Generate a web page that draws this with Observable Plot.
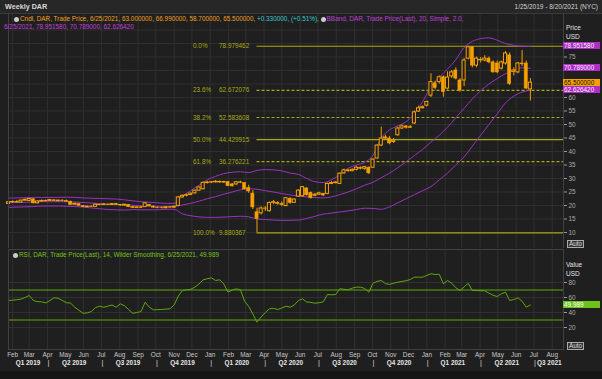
<!DOCTYPE html>
<html><head><meta charset="utf-8">
<script src="https://cdn.jsdelivr.net/npm/d3@7"></script>
<script src="https://cdn.jsdelivr.net/npm/@observablehq/plot@0.6"></script>
<style>
body{margin:0;background:#1b1b1b;}
#wrap{position:relative;width:602px;height:379px;overflow:hidden;background:#1f1f1f;font-family:"Liberation Sans",Arial,sans-serif;font-size:6.4px;color:#ccc;}
.abs{position:absolute;white-space:nowrap;line-height:8px;}
.tag{position:absolute;left:563px;width:37px;height:7px;line-height:7px;font-size:6.4px;padding-left:1px;box-sizing:border-box;}
.ico{display:inline-block;width:5px;height:5px;border-radius:50%;background:#ccc;margin-right:1px;vertical-align:-0.5px;}
.plot{position:absolute;left:0;}
</style></head><body><div id="wrap"></div>
<script>
// ---------- DATA (weekly, Fridays from 2019-01-25 to 2021-06-25) ----------
const firstWeek = "2019-01-25";
const open = [
20.6,21.2,21.3,21.1,21.8,21.7,22.3,20.8,21.5,21.6,
21.7,21.9,21.6,21.8,21.6,21.4,20.3,20.5,19.8,19.4,
19.6,19.5,20.2,20.2,20.3,20.2,20.5,20.2,20.0,20.2,
19.4,19.1,19.3,19.4,20.2,19.6,19.2,19.1,19.0,19.3,
19.2,19.8,23.0,23.6,23.9,24.5,25.5,26.0,28.3,28.5,
28.6,28.8,28.5,28.7,27.8,27.8,28.6,28.3,26.4,24.4,
17.5,17.1,18.9,17.9,21.0,21.0,20.6,19.8,22.5,21.0,
23.3,23.4,26.3,24.6,23.6,24.0,24.3,24.3,28.0,28.3,
28.0,31.9,33.0,32.7,33.2,34.0,33.6,34.0,34.0,37.4,
42.2,44.8,44.8,43.5,46.0,48.5,49.3,48.8,50.4,54.8,
56.0,57.0,60.7,65.2,65.7,67.5,63.3,67.8,70.0,66.3,
66.3,74.4,78.6,71.8,74.0,73.7,74.4,73.0,72.6,70.7,
72.6,75.6,69.5,69.3,72.6,72.6,63.0];
const high = [
21.5,21.7,21.8,22.0,22.4,22.6,22.5,21.7,22.0,22.0,
22.3,22.2,22.0,22.1,22.0,21.6,20.9,20.6,20.0,19.8,
19.9,20.5,20.5,20.6,20.6,20.7,20.8,20.4,20.4,20.3,
19.7,19.5,19.6,21.1,20.4,19.8,19.5,19.4,19.5,19.6,
19.8,23.4,23.9,24.2,24.6,25.7,26.9,28.7,28.9,28.9,
29.2,29.1,29.0,28.9,28.2,28.9,29.0,28.4,27.5,25.5,
19.0,19.5,19.5,21.3,21.9,21.4,21.3,23.0,22.9,22.5,
25.8,27.0,26.6,25.0,24.4,24.9,24.5,28.3,28.8,28.9,
32.1,33.5,33.4,33.6,34.5,34.3,34.5,34.3,37.3,42.5,
49.0,46.0,45.5,44.8,49.0,49.8,49.5,49.6,55.0,56.8,
56.9,58.7,68.8,66.0,68.0,68.0,69.5,70.0,71.0,67.0,
74.5,78.98,78.9,75.0,74.8,75.5,75.0,73.6,73.5,73.5,
77.0,76.5,71.0,73.0,77.4,73.5,66.99];
const low = [
20.3,20.8,20.9,21.0,21.6,21.5,20.6,20.6,21.2,21.3,
21.5,21.5,21.3,21.4,21.2,20.0,20.1,19.7,19.2,19.2,
19.3,19.4,19.9,20.0,20.0,20.1,20.0,19.7,19.8,19.2,
18.9,18.9,18.9,19.3,19.5,19.0,18.8,18.7,18.8,19.0,
19.0,19.7,22.8,23.2,23.7,24.2,25.3,25.8,28.0,28.1,
28.3,28.2,28.2,27.0,26.8,27.5,28.1,25.8,24.5,18.5,
9.88,16.5,17.8,17.6,20.3,20.1,19.6,19.5,20.5,20.8,
23.0,23.2,23.5,22.4,23.2,23.8,23.3,24.0,27.7,28.0,
27.8,31.6,32.2,32.5,32.8,33.2,33.0,31.5,33.8,37.2,
41.8,44.3,42.5,43.0,45.7,48.2,48.3,48.5,50.0,54.5,
55.8,56.5,60.0,62.8,65.0,60.1,62.8,67.0,66.5,62.0,
64.0,73.9,71.0,71.0,72.8,73.2,72.5,69.0,68.8,70.2,
72.0,64.5,68.0,68.8,71.5,63.0,58.7];
const close = [
21.2,21.3,21.1,21.8,22.1,22.4,20.8,21.5,21.7,21.7,
22.0,21.6,21.8,21.6,21.4,20.2,20.6,19.9,19.4,19.6,
19.5,20.3,20.1,20.4,20.2,20.5,20.2,20.0,20.3,19.4,
19.1,19.3,19.1,20.8,19.7,19.2,19.1,19.0,19.3,19.2,
19.5,23.0,23.6,23.8,24.4,25.5,26.7,28.4,28.5,28.6,
28.8,28.5,28.7,27.2,27.1,28.6,28.4,26.0,25.2,19.3,
15.1,18.9,18.8,20.9,21.2,20.6,20.2,22.7,20.9,22.2,
25.5,26.8,23.8,22.7,24.0,24.5,23.7,28.0,28.3,28.5,
31.8,33.0,32.7,33.2,34.0,33.6,34.2,31.9,37.0,42.2,
44.8,45.2,43.0,44.0,48.5,49.3,48.8,49.0,54.5,56.0,
56.4,58.3,65.7,63.5,67.5,62.0,67.4,69.3,67.0,62.6,
73.7,78.6,71.8,74.4,73.7,74.4,73.0,69.3,69.3,73.0,
76.3,65.0,70.0,72.6,72.3,63.3,65.5];
// RSI(14) weekly
const rsi = [
56,56.5,57,57.8,60,62.7,56,54.5,54.2,52.8,
56,59.6,59,56,53,52.5,47,43,39,39.5,
41.3,46.5,48.4,47,48.5,50,47,51.6,49,44,
39,40,41.3,53.8,47,43.6,43.8,44,44.5,44.9,
50,62,69.3,70.2,71,73.8,78,83.6,85,86.2,
82.7,83.6,78,67.1,70,71.6,70.2,55,48,38,
27.1,34,40,44.9,45.5,44,46,48.4,47.1,50,
56,58.2,54,53.5,52.4,53,54.2,64,63.6,64,
71.6,71,70.2,72.5,73.8,73.8,72,67.1,79,81.5,
82.7,78.5,77.5,79,80.4,81.5,82.3,84,87.1,87.1,
87.1,89.5,91.6,90.7,91,78.2,82.7,79,73,69.3,
74,79,69.3,69.3,69,68.9,65.8,63,61.3,65,
67.1,56,57.3,59.6,55,47.1,49.989];
// Bollinger band (20, 2.0) read every second week (weeks 0,2,...,126)
const bandUpper = [22.7,22.8,22.9,23.0,23.0,23.0,23.0,23.1,23.0,22.8,
22.7,22.6,22.5,22.4,22.1,21.7,21.4,21.2,21.0,20.8,
20.8,23.5,25.5,27.5,29.5,30.8,31.8,32.3,32.5,32.2,
33.0,33.3,33.2,32.8,32.0,31.5,30.0,28.8,28.5,29.5,
31.5,33.8,35.0,36.0,38.5,45.0,48.0,49.5,51.0,54.0,
58.5,64.0,67.5,70.5,74.0,78.5,80.8,81.8,82.1,81.2,
80.0,79.3,79.0,78.95];
const bandMiddle = [21.0,21.1,21.2,21.3,21.4,21.4,21.4,21.4,21.3,21.1,
20.9,20.7,20.5,20.4,20.2,20.1,19.9,19.8,19.7,19.7,
19.7,20.2,20.8,21.6,22.5,23.3,24.2,25.0,25.8,26.2,
26.0,25.5,25.0,24.4,23.9,23.5,23.2,22.9,22.8,23.2,
24.0,25.0,26.2,27.5,28.6,30.3,32.0,34.0,36.2,38.5,
40.8,43.5,46.0,49.0,52.5,56.0,59.5,62.5,65.0,67.0,
68.8,70.0,71.0,70.79];
const bandLower = [19.3,19.4,19.5,19.6,19.8,19.8,19.8,19.7,19.6,19.4,
19.1,18.8,18.5,18.4,18.3,18.5,18.4,18.4,18.4,18.6,
18.6,16.9,16.2,15.8,15.6,15.6,15.7,15.9,16.0,15.8,
15.0,14.8,14.6,14.5,14.5,14.6,15.2,16.0,16.8,17.2,
17.6,18.0,18.5,19.0,18.9,18.6,19.5,21.0,22.5,24.0,
25.5,27.0,29.5,32.0,35.0,38.0,42.0,46.0,50.0,54.0,
58.0,60.5,62.0,62.63];
// Fibonacci retracement (low 2020-03-20 -> high 2021-03-12)
const fibPct = ["0.0%","23.6%","38.2%","50.0%","61.8%","100.0%"];
const fibVal = [78.979462,62.672076,52.583608,44.429915,36.276221,9.880367];
const fibDashed = [false,true,true,false,true,false];
const fibStart = "2020-03-20";
// axes
const priceGrid = [10,15,20,25,30,35,40,45,50,55,60,65,70,75,80,85];
const priceTickLabels = [10,15,20,25,30,35,40,45,50,55,60,75];
const rsiTicks = [20,40,60,80];
const monthStarts = ["2019-02-01","2019-03-01","2019-04-01","2019-05-01","2019-06-01","2019-07-01","2019-08-01","2019-09-01","2019-10-01","2019-11-01","2019-12-01","2020-01-01","2020-02-01","2020-03-01","2020-04-01","2020-05-01","2020-06-01","2020-07-01","2020-08-01","2020-09-01","2020-10-01","2020-11-01","2020-12-01","2021-01-01","2021-02-01","2021-03-01","2021-04-01","2021-05-01","2021-06-01","2021-07-01","2021-08-01"];
const monthLabels = ["Feb","Mar","Apr","May","Jun","Jul","Aug","Sep","Oct","Nov","Dec","Jan","Feb","Mar","Apr","May","Jun","Jul","Aug","Sep","Oct","Nov","Dec","Jan","Feb","Mar","Apr","May","Jun","Jul","Aug"];
const quarterStarts = ["2019-04-01","2019-07-01","2019-10-01","2020-01-01","2020-04-01","2020-07-01","2020-10-01","2021-01-01","2021-04-01","2021-07-01"];
const quarterMids = ["2019-02-27","2019-05-16","2019-08-15","2019-11-15","2020-02-15","2020-05-16","2020-08-15","2020-11-15","2021-02-14","2021-05-16","2021-07-27"];
const quarterLabels = ["Q1 2019","Q2 2019","Q3 2019","Q4 2019","Q1 2020","Q2 2020","Q3 2020","Q4 2020","Q1 2021","Q2 2021","Q3 2021"];
const rangeStart = "2019-01-25", rangeEnd = "2021-08-20";

// ---------- BUILD ----------
const D = s => new Date(s + "T00:00:00Z");
const x0 = D(rangeStart), x1 = D(rangeEnd);
const weeks = open.map((_, i) => d3.utcDay.offset(D(firstWeek), 7 * i));
const candles = weeks.map((d, i) => ({date: d, o: open[i], h: high[i], l: low[i], c: close[i]}));
const bands = bandUpper.map((u, k) => ({date: weeks[Math.min(2 * k, weeks.length - 1)], u, m: bandMiddle[k], l: bandLower[k]}));
const fib = fibPct.map((p, i) => ({p, v: fibVal[i], dash: fibDashed[i]}));
const rsiData = weeks.map((d, i) => ({date: d, r: rsi[i]}));
const months = monthStarts.map(D), qStarts = quarterStarts.map(D), qMids = quarterMids.map(D);

const BG = "#1f1f1f", GRID = "#303030", FRAME = "#404040";
const ORANGE = "#f5a000", PURPLE = "#9a32c2", OLIVE = "#a9a914", GREEN = "#5fa80a";
const halfW = 2.6 * 864e5;
const fs = 6.4;

const wrap = document.getElementById("wrap");

const pricePlot = Plot.plot({
  width: 602, height: 235, marginLeft: 8, marginRight: 39, marginTop: 0, marginBottom: 0,
  style: {background: "transparent", fontFamily: "Liberation Sans, Arial, sans-serif"},
  x: {type: "utc", domain: [x0, x1], axis: null},
  y: {domain: [4.07, 91.11], axis: null},
  marks: [
    Plot.gridX(months, {stroke: GRID, strokeOpacity: 1}),
    Plot.gridY(priceGrid, {stroke: GRID, strokeOpacity: 1}),
    Plot.axisY(priceTickLabels, {anchor: "right", tickSize: 3, tickPadding: 2, stroke: "#999", fill: "#aaa", fontSize: fs, label: null, tickFormat: d => d}),
    Plot.ruleY(fib.filter(d => !d.dash), {y: "v", x1: D(fibStart), x2: x1, stroke: OLIVE, strokeWidth: 1.2}),
    Plot.ruleY(fib.filter(d => d.dash), {y: "v", x1: D(fibStart), x2: x1, stroke: OLIVE, strokeWidth: 1.2, strokeDasharray: "3,2"}),
    Plot.text(fib, {x: () => D(fibStart), y: "v", text: "p", dx: -64, textAnchor: "start", fill: OLIVE, fontSize: fs}),
    Plot.text(fib, {x: () => D(fibStart), y: "v", text: d => String(d.v), dx: -38, textAnchor: "start", fill: OLIVE, fontSize: fs}),
    Plot.line(bands, {x: "date", y: "u", stroke: PURPLE, strokeWidth: 1, curve: "monotone-x"}),
    Plot.line(bands, {x: "date", y: "m", stroke: PURPLE, strokeWidth: 1, curve: "monotone-x"}),
    Plot.line(bands, {x: "date", y: "l", stroke: PURPLE, strokeWidth: 1, curve: "monotone-x"}),
    Plot.ruleX(candles, {x: "date", y1: "l", y2: "h", stroke: ORANGE, strokeWidth: 1}),
    Plot.rect(candles.filter(d => d.c >= d.o), {x1: d => new Date(+d.date - halfW), x2: d => new Date(+d.date + halfW), y1: "o", y2: "c", fill: BG, stroke: ORANGE, strokeWidth: 1}),
    Plot.rect(candles.filter(d => d.c < d.o), {x1: d => new Date(+d.date - halfW), x2: d => new Date(+d.date + halfW), y1: "c", y2: "o", fill: ORANGE, stroke: ORANGE, strokeWidth: 0.6}),
    Plot.frame({stroke: FRAME})
  ]
});
pricePlot.classList.add("plot");
pricePlot.style.top = "13px";
wrap.appendChild(pricePlot);

const rsiPlot = Plot.plot({
  width: 602, height: 122, marginLeft: 8, marginRight: 39, marginTop: 0, marginBottom: 22,
  style: {background: "transparent", fontFamily: "Liberation Sans, Arial, sans-serif", overflow: "visible"},
  x: {type: "utc", domain: [x0, x1], axis: null},
  y: {domain: [-9.33, 124], axis: null},
  marks: [
    Plot.gridX(months, {stroke: GRID, strokeOpacity: 1}),
    Plot.gridY(rsiTicks, {stroke: GRID, strokeOpacity: 1}),
    Plot.axisY(rsiTicks, {anchor: "right", tickSize: 3, tickPadding: 2, stroke: "#999", fill: "#aaa", fontSize: fs, label: null, tickFormat: d => d}),
    Plot.ruleY([30, 70], {stroke: GREEN, strokeWidth: 1.1}),
    Plot.line(rsiData, {x: "date", y: "r", stroke: GREEN, strokeWidth: 1}),
    Plot.frame({stroke: FRAME}),
    Plot.text(months, {x: d => d, text: (d, i) => monthLabels[i], frameAnchor: "bottom", dy: 7, fill: "#c8c8c8", fontSize: fs}),
    Plot.text(qMids, {x: d => d, text: (d, i) => quarterLabels[i], frameAnchor: "bottom", dy: 15, fill: "#e6e6e6", fontSize: fs, fontWeight: "bold"}),
    Plot.text(qStarts, {x: d => d, text: () => "|", frameAnchor: "bottom", dy: 15, dx: 1, fill: "#d0d0d0", fontSize: fs + 1})
  ]
});
rsiPlot.classList.add("plot");
rsiPlot.style.top = "249px";
wrap.appendChild(rsiPlot);

// ---------- HTML overlays ----------
function add(html, css) {
  const el = document.createElement("div");
  el.className = "abs";
  el.innerHTML = html;
  Object.assign(el.style, css);
  wrap.appendChild(el);
  return el;
}
add("", {left: "0px", top: "0px", width: "602px", height: "13px", background: "#272727", borderBottom: "1px solid #3a3a3a"});
add("Weekly DAR", {left: "5px", top: "3px", fontWeight: "bold", fontSize: "7.2px", color: "#d8d8d8"});
add("1/25/2019 - 8/20/2021 (NYC)", {right: "4px", top: "3px", fontSize: "6.5px", color: "#d0d0d0"});
add("", {left: "0px", top: "371px", width: "602px", height: "8px", background: "#151515"});

const yP = v => 13 + pricePlot.scale("y").apply(v);
const yR = v => 249 + rsiPlot.scale("y").apply(v);
const lastI = close.length - 1;

add(`<span class="ico"></span><span style="color:#f0a020">Cndl, DAR, Trade Price, 6/25/2021, ${open[lastI].toFixed(6)}, ${high[lastI].toFixed(6)}, ${low[lastI].toFixed(6)}, ${close[lastI].toFixed(6)}, </span><span style="color:#3cc8c8">+0.330000, (+0.51%), </span><span class="ico"></span><span style="color:#c040d8">BBand, DAR, Trade Price(Last), 20, Simple, 2.0,</span>`,
  {left: "14px", top: "15px"});
add(`<span style="color:#c040d8">6/25/2021, 78.951580, 70.789000, 62.626420</span>`, {left: "4px", top: "23px"});
add("Price", {left: "566px", top: "24px", color: "#e0e0e0", fontSize: "6.5px"});
add("USD", {left: "566px", top: "33px", color: "#e0e0e0", fontSize: "6.5px"});

function tag(text, y, bg, color) {
  const el = document.createElement("div");
  el.className = "tag";
  el.textContent = text;
  Object.assign(el.style, {top: (y - 3.5) + "px", background: bg, color});
  wrap.appendChild(el);
}
tag("78.951580", yP(78.95158), "#b02cc8", "#f0f0f0");
tag("70.789000", yP(70.789), "#b02cc8", "#f0f0f0");
tag(close[lastI].toFixed(6), yP(close[lastI]), "#f5a000", "#111");
tag("62.626420", yP(62.62642), "#b02cc8", "#f0f0f0");
add("Auto", {left: "567px", top: "240px", border: "1px solid #aaa", padding: "0 1px", lineHeight: "6px", color: "#ddd", background: "#333"});

add(`<span class="ico"></span><span style="color:#78c020">RSI, DAR, Trade Price(Last), 14, Wilder Smoothing, 6/25/2021, ${rsi[lastI]}</span>`, {left: "13px", top: "251px"});
add("Value", {left: "566px", top: "261px", color: "#e0e0e0", fontSize: "6.5px"});
add("USD", {left: "566px", top: "270px", color: "#e0e0e0", fontSize: "6.5px"});
tag(String(rsi[lastI]), yR(rsi[lastI]), "#6cc418", "#fff");
add("Auto", {left: "567px", top: "342px", border: "1px solid #aaa", padding: "0 1px", lineHeight: "6px", color: "#ddd", background: "#333"});
</script></body></html>
